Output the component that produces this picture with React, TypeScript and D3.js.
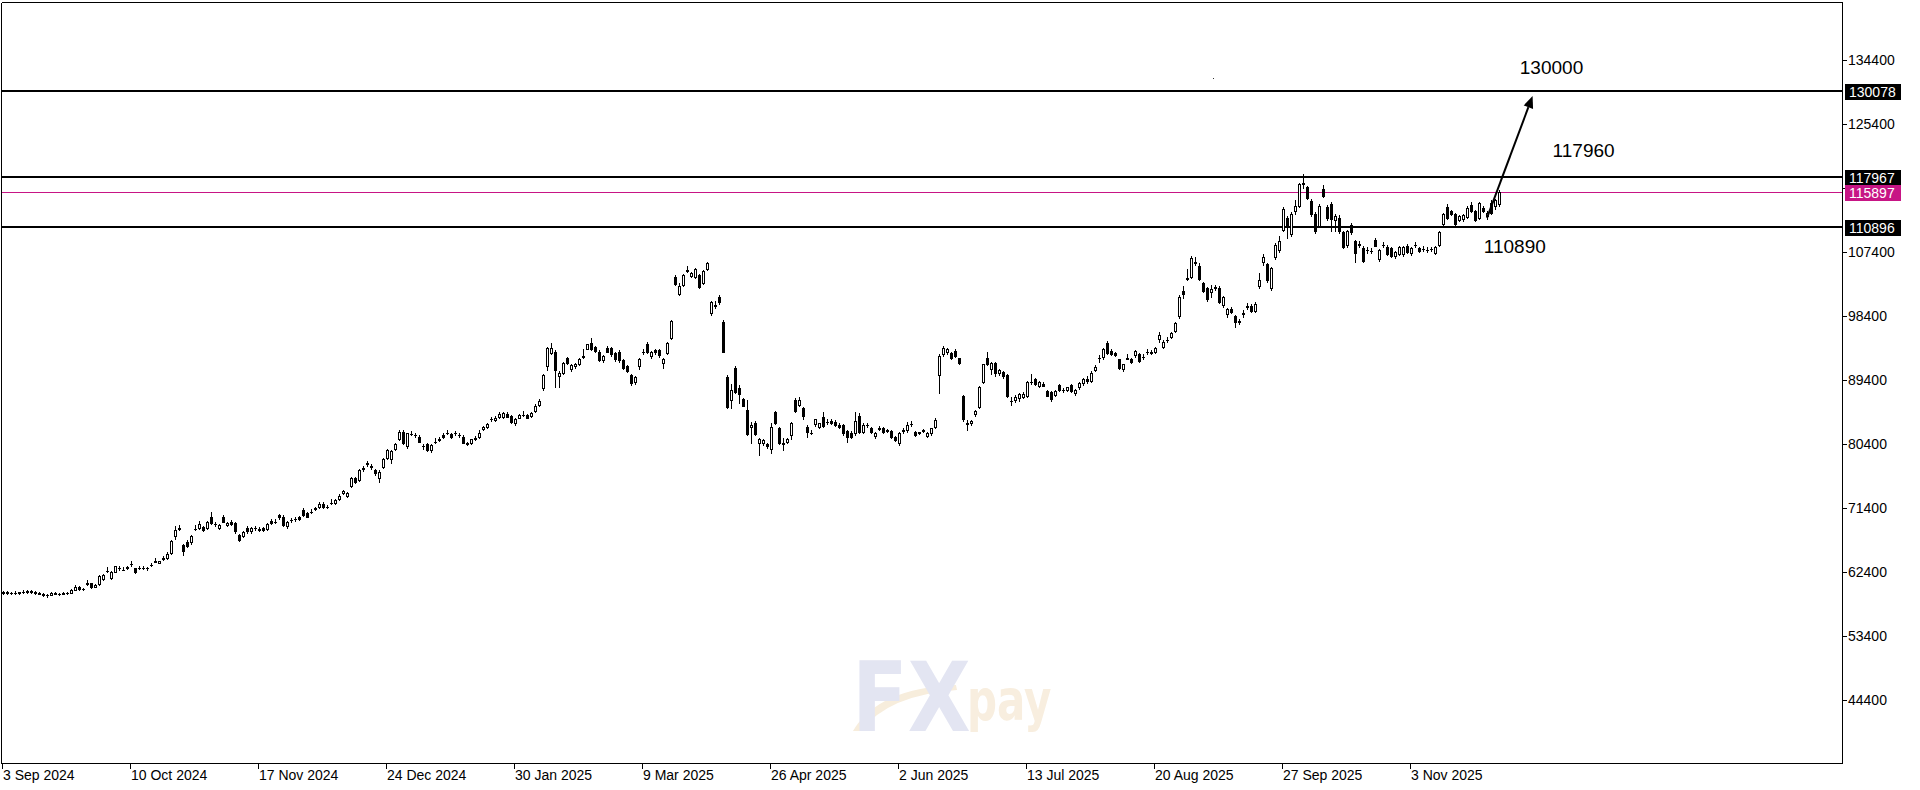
import React from 'react';
import * as d3 from 'd3';

type C = [number, number, number, number]; // open, high, low, close

// Sep 2024 – Dec 2024
const candlesA: C[] = [
  [59450, 59700, 59300, 59550], [59550, 59700, 59350, 59450], [59450, 59650, 59300, 59500], [59500, 59750, 59350, 59400],
  [59400, 59650, 59300, 59600], [59600, 59800, 59400, 59550], [59550, 59900, 59500, 59700], [59700, 59900, 59450, 59650],
  [59650, 59750, 59300, 59400], [59400, 59550, 59250, 59300], [59300, 59400, 59000, 59100], [59100, 59250, 58950, 59200],
  [59200, 59600, 59150, 59500], [59500, 59650, 59300, 59350], [59350, 59500, 59200, 59300], [59450, 59550, 59250, 59300],
  [59400, 59550, 59300, 59500], [59500, 59950, 59450, 59900], [59900, 60600, 59850, 60300], [60300, 60400, 59900, 60000],
  [60000, 60200, 59800, 60050], [60700, 61300, 60600, 60800], [60800, 60900, 60200, 60350], [60350, 60700, 60250, 60550],
  [60700, 61950, 60600, 61800], [61400, 62150, 61300, 61950], [62500, 63100, 62400, 62600], [61500, 62550, 61400, 62450],
  [62450, 63300, 62350, 63200], [62950, 63300, 62750, 62900], [62700, 63050, 62650, 62750], [62900, 63250, 62850, 63150],
  [63550, 63900, 63300, 63500], [62900, 63000, 62200, 62450], [62950, 63250, 62800, 63000], [63000, 63250, 62850, 62950],
  [62950, 63150, 62650, 62900], [63400, 63700, 63250, 63450], [63850, 64300, 63800, 63900], [63700, 64000, 63650, 63900],
  [64400, 64600, 64100, 64250], [64300, 65200, 64200, 65000], [65100, 66900, 65000, 66750], [67400, 68800, 67000, 68300],
  [68550, 69000, 68300, 68500], [66200, 66400, 64800, 65300], [66650, 66900, 65900, 66000], [66550, 67600, 66400, 67450],
  [68400, 69000, 68300, 68450], [68600, 69600, 68500, 69200], [68700, 68900, 68150, 68250], [68600, 69600, 68500, 69450],
  [70200, 70800, 69200, 69350], [69200, 69500, 68900, 69150], [68600, 69100, 68400, 69000], [70150, 70450, 69400, 69500],
  [69000, 69400, 68800, 69300], [69450, 69700, 69000, 69150], [69250, 69450, 67900, 68100], [67600, 67800, 66700, 66900],
  [67400, 68200, 67300, 68050], [68650, 68900, 67950, 68100], [68100, 68700, 67900, 68550], [68600, 68850, 68350, 68550],
  [68500, 68700, 68200, 68300], [68550, 68700, 68200, 68300], [68400, 69300, 68300, 69150], [69600, 69900, 69100, 69250],
  [69500, 69800, 69300, 69450], [70400, 70600, 69900, 70100], [70200, 70400, 68800, 69000], [68800, 69600, 68600, 69450],
  [69700, 70000, 69500, 69750], [69800, 70100, 69600, 69850], [70100, 70300, 69700, 69800], [71100, 71400, 70300, 70450],
  [70650, 70900, 70100, 70200], [70900, 71200, 70700, 70850], [71350, 71600, 71100, 71300], [71600, 72200, 71450, 71950],
  [71950, 72200, 71400, 71600], [71600, 71850, 71350, 71550], [72050, 72700, 72000, 72150], [72050, 72700, 71900, 72500],
  [72600, 73300, 72500, 73100], [73450, 74000, 73350, 73850], [73100, 73700, 72900, 73550], [74500, 75800, 74300, 75550],
  [75550, 75800, 74950, 75100], [75350, 76900, 75200, 76700], [76900, 77300, 76600, 77000], [77700, 78000, 77300, 77650],
  [77250, 77600, 76900, 77200], [76750, 76950, 76100, 76300],
];

// Dec 2024 – Apr 2025
const candlesB: C[] = [
  [75600, 76700, 75000, 76500], [77100, 78400, 77000, 78250], [78500, 79700, 78300, 79550], [78250, 79600, 77700, 79450],
  [79700, 80600, 79500, 80350], [81050, 82300, 80900, 82150], [82150, 82400, 80400, 80500], [80050, 82000, 79800, 81900],
  [81800, 82200, 81600, 81850], [81700, 82000, 81400, 81650], [81450, 81600, 80650, 80750], [80100, 80400, 79700, 80150],
  [80400, 80500, 79400, 79550], [79550, 80400, 79300, 80250], [80700, 81200, 80500, 80750], [81050, 81400, 80800, 81000],
  [81650, 81900, 81300, 81350], [82000, 82400, 81800, 81950], [81850, 82000, 81200, 81350], [81900, 82200, 81700, 81900],
  [81650, 81950, 81450, 81700], [81450, 81600, 80500, 80600], [80600, 80700, 80200, 80400], [80500, 81100, 80400, 81050],
  [81200, 81500, 80900, 81150], [81450, 82400, 81300, 81900], [82450, 82950, 82300, 82850], [82750, 83300, 82600, 83150],
  [83850, 84200, 83600, 83900], [83800, 84300, 83700, 84100], [84150, 84850, 84050, 84600], [84250, 84950, 84100, 84750],
  [84550, 84850, 84200, 84250], [84350, 84500, 83300, 83550], [83300, 84000, 83100, 83900], [84100, 84650, 84000, 84500],
  [84450, 85000, 84400, 84500], [84500, 84650, 84000, 84100], [84350, 84950, 84200, 84800], [85100, 86000, 84900, 85800],
  [85850, 86700, 85700, 86500], [88250, 90300, 88000, 90100], [91300, 94100, 90800, 93850], [93250, 94550, 93100, 93850],
  [93400, 93600, 88450, 90800], [89950, 90700, 88450, 90400], [90450, 92000, 90200, 91750], [92450, 92700, 91600, 91750],
  [90900, 91650, 90700, 91500], [91300, 91800, 91100, 91650], [91650, 92500, 91500, 92300], [92650, 93700, 92550, 92750],
  [93800, 94500, 93700, 94400], [94550, 95250, 93650, 93750], [94000, 94200, 93350, 93500], [93400, 93550, 92100, 92200],
  [92200, 92900, 91950, 92750], [93950, 94200, 93300, 93400], [93950, 94100, 92800, 93050], [93250, 93400, 92100, 92300],
  [93400, 93600, 91900, 92200], [92200, 92300, 91000, 91150], [91350, 91500, 90500, 90700], [90100, 90300, 88700, 88950],
  [89150, 90000, 88900, 89850], [91350, 92500, 91000, 92300], [93300, 93800, 93100, 93400], [94400, 94700, 93200, 93400],
  [92750, 93500, 92500, 93350], [93600, 93800, 93100, 93300], [93600, 93750, 92700, 92900], [91750, 92500, 91100, 92400],
  [93150, 94700, 93000, 94550], [95250, 97900, 95100, 97750], [103850, 104100, 102700, 102900], [101500, 103100, 101300, 102600],
  [102750, 104300, 102600, 104150], [104700, 105450, 104600, 104800], [104050, 104600, 103900, 104400], [103950, 105100, 103800, 104950],
  [104150, 104300, 102300, 102450], [103100, 104900, 102900, 104700], [104950, 106050, 104800, 105800], [98850, 100500, 98600, 100300],
  [99800, 100500, 99500, 99900], [101100, 101400, 100100, 100300], [97600, 97800, 93300, 93400], [89850, 90100, 85500, 85650],
  [86600, 88850, 85400, 88000], [91150, 91300, 87600, 87750], [88250, 88700, 86200, 87450], [86700, 86800, 85700, 85800],
  [85250, 86600, 81700, 81800], [82750, 83550, 80600, 83050],
];

// Apr 2025 – Aug 2025
const candlesC: C[] = [
  [83400, 83700, 81700, 81800], [80600, 81200, 78850, 81050], [80500, 81150, 80300, 80950], [80400, 80550, 79900, 80050],
  [79650, 83300, 79100, 82750], [84950, 85100, 83200, 83300], [82600, 82800, 80400, 80600], [80600, 81200, 79550, 80400],
  [80700, 81300, 80500, 81150], [81650, 83500, 81100, 83300], [86600, 86800, 84900, 85100], [85900, 87000, 85700, 86600],
  [85400, 85600, 83900, 84350], [82750, 83050, 81450, 82150], [82000, 82300, 81800, 81950], [83200, 83950, 83000, 83850],
  [82850, 83400, 82600, 83300], [84150, 84950, 82800, 82950], [83550, 83900, 83200, 83500], [83700, 83900, 83200, 83300],
  [83550, 83800, 82950, 83050], [83050, 83300, 82600, 82750], [83050, 83200, 81700, 81900], [82200, 82400, 80700, 81350],
  [82000, 82200, 81200, 81350], [81900, 84950, 81700, 83700], [84350, 84700, 82000, 82150], [82150, 83300, 81900, 83050],
  [83050, 83350, 82850, 83100], [82600, 82800, 81950, 82150], [81550, 82150, 81300, 81950], [82550, 82900, 82300, 82600],
  [82600, 82800, 81950, 82150], [82300, 82550, 82050, 82250], [82250, 82400, 81300, 81450], [81350, 81500, 80800, 80950],
  [80600, 82100, 80300, 81950], [82250, 82600, 82000, 82300], [82300, 83500, 82100, 83050], [83150, 83600, 82950, 83200],
  [82100, 82250, 81550, 81700], [82050, 82150, 81750, 81900], [82250, 82550, 82050, 82300], [81550, 82050, 81400, 81900],
  [81900, 82700, 81700, 82600], [82850, 84100, 82700, 83800], [90100, 93000, 87600, 92750], [93000, 94250, 92800, 93850],
  [93400, 93900, 93100, 93700], [93150, 93350, 92300, 92450], [93500, 93700, 92700, 92800], [92450, 92500, 91700, 91750],
  [87150, 87300, 83700, 83850], [83300, 83800, 82350, 83250], [83300, 83800, 83100, 83650], [84600, 85200, 84400, 85050],
  [85550, 88600, 85400, 88450], [89150, 91700, 89000, 91600], [92450, 93300, 91550, 91650], [90900, 92000, 90200, 91850],
  [91850, 92000, 89900, 90450], [90350, 90900, 90100, 90800], [90550, 90700, 89700, 89950], [90100, 90250, 87000, 87150],
  [86500, 87050, 85900, 86450], [86650, 87250, 86300, 87050], [86800, 87550, 86500, 87450], [87050, 87700, 86900, 87450],
  [87200, 89300, 87000, 89150], [89150, 90200, 88900, 89100], [89500, 89700, 88700, 88800], [88600, 89300, 88400, 89150],
  [88900, 89050, 88500, 88600], [87900, 88050, 87100, 87200], [87750, 87900, 86500, 86700], [87300, 88000, 87100, 87900],
  [88700, 88900, 87800, 87950], [88000, 88300, 87700, 88000], [88000, 88450, 87800, 88350], [88700, 88900, 87700, 87900],
  [87550, 88100, 87300, 87950], [88400, 89100, 88200, 89000], [89000, 89700, 88700, 89500], [89500, 89900, 89000, 89300],
  [89300, 90600, 89100, 90400], [90800, 91450, 90600, 91250], [92450, 92900, 91950, 92500], [92600, 93900, 92400, 93700],
  [94550, 94900, 93100, 93250], [93450, 93700, 92900, 93050], [93250, 93400, 92800, 92900], [92300, 92400, 90900, 91050],
  [90900, 91700, 90700, 91600], [92400, 93100, 92300, 92450],
];

// Aug 2025 – Nov 2025
const candlesD: C[] = [
  [92300, 92500, 91800, 91950], [92900, 93600, 92700, 93500], [93000, 93200, 92000, 92100], [92650, 93000, 92400, 92700],
  [93300, 93800, 93000, 93300], [93400, 93600, 93000, 93150], [93400, 94000, 93200, 93850], [95100, 96150, 94800, 95700],
  [94100, 95050, 93900, 94750], [95000, 95400, 94700, 95050], [95500, 96200, 95300, 96050], [96350, 97500, 96100, 97350],
  [98400, 101300, 98100, 101050], [101900, 102600, 100900, 101500], [103800, 105000, 103400, 103550], [103850, 106800, 103700, 106500],
  [105950, 106650, 105600, 105900], [105450, 105800, 103400, 103550], [103000, 103200, 101800, 101950], [102300, 102450, 100500, 100800],
  [101800, 102800, 101100, 102150], [102400, 102800, 102100, 102450], [102400, 102550, 100200, 100300], [99950, 101200, 99700, 101050],
  [98700, 99500, 98300, 99350], [99450, 99650, 98800, 98990], [98400, 98600, 96900, 97600], [97600, 98000, 97300, 97650],
  [98800, 99300, 98300, 98750], [99700, 100200, 99400, 99750], [99850, 100100, 98900, 99050], [99150, 100300, 98900, 100100],
  [102650, 104400, 102400, 103450], [105950, 107100, 105550, 106750], [105650, 105800, 103200, 103400], [102300, 105300, 102100, 105100],
  [106650, 108700, 106400, 108450], [107700, 109650, 107400, 109000], [110500, 113700, 110300, 113500], [112250, 112500, 109300, 110850],
  [109950, 113000, 109700, 112700], [113200, 114700, 112700, 113900], [113850, 117100, 113700, 116950], [116900, 118400, 116350, 117050],
  [116500, 116700, 114800, 114950], [114600, 114800, 112500, 112800], [112800, 113000, 110100, 110300], [111100, 114100, 110900, 113900],
  [116250, 116850, 115100, 115300], [113750, 114000, 111900, 112150], [114100, 114400, 110300, 112000], [111900, 112700, 110300, 112500],
  [112250, 112600, 110100, 110300], [110150, 110400, 107900, 108150], [108350, 110500, 108100, 110300], [111200, 111500, 109900, 110150],
  [108900, 109100, 106050, 107200], [108450, 108900, 108100, 108500], [107950, 108200, 106000, 106150], [107650, 108100, 107300, 107700],
  [107550, 108000, 107200, 107600], [109100, 109400, 108200, 108300], [106400, 107800, 106200, 107650], [108400, 108800, 108100, 108450],
  [108150, 108350, 107000, 107100], [107950, 108100, 106700, 106850], [106850, 107500, 106600, 107350], [107150, 108300, 107000, 108150],
  [107100, 108250, 106900, 108150], [108250, 108500, 107300, 107450], [107200, 108100, 107000, 107950], [108400, 108850, 108150, 108450],
  [107950, 108100, 107400, 107550], [107800, 108200, 107500, 107850], [107650, 108050, 107350, 107700], [107800, 108150, 107500, 107800],
  [107250, 108300, 107100, 108150], [108400, 110400, 108200, 110150], [111300, 112900, 111000, 112800], [113750, 114100, 112100, 112250],
  [113100, 113300, 112600, 112700], [112700, 112900, 111200, 111400], [111950, 112600, 111700, 112500], [112000, 112750, 111800, 112600],
  [112350, 113800, 112200, 113650], [114050, 114500, 113050, 113200], [113100, 113300, 111700, 111900], [112250, 114400, 112100, 114300],
  [113650, 113900, 113050, 113200], [112500, 113100, 112000, 112950], [114350, 114700, 112800, 112950], [113900, 114800, 113500, 114700],
  [114150, 116100, 113900, 115897],
];

const dateTickBars = [0, 32, 64, 96, 128, 160, 192, 224, 256, 288, 320, 352];
const dateTickLabels = [
  '3 Sep 2024', '10 Oct 2024', '17 Nov 2024', '24 Dec 2024', '30 Jan 2025', '9 Mar 2025',
  '26 Apr 2025', '2 Jun 2025', '13 Jul 2025', '20 Aug 2025', '27 Sep 2025', '3 Nov 2025',
];
const priceTicks = [134400, 125400, 116400, 107400, 98400, 89400, 80400, 71400, 62400, 53400, 44400];
const hiddenPriceLabels = [116400];
const levelLines = [130078, 117967, 110896];
const currentPrice = 115897;
const noteTexts = ['130000', '117960', '110890'];
const noteBars = [379.2, 387.4, 370.2];
const notePrices = [132430, 120760, 107260];
const arrowFrom = { bar: 371, price: 112200 };
const arrowTo = { bar: 382.4, price: 129350 };
const strayDot = { bar: 302.4, price: 131870 };

const W = 1920;
const H = 790;
const PLOT_L = 1;
const PLOT_T = 2;
const PLOT_R = 1842;
const PLOT_B = 763;
const MAGENTA = '#C71585';
const FONT = "'Liberation Sans', Arial, sans-serif";

export default function App() {
  const candles = [...candlesA, ...candlesB, ...candlesC, ...candlesD];
  const x = d3.scaleLinear().domain([0, 460]).range([3, 1843]);
  const y = d3.scaleLinear().domain([44400, 134400]).range([700, 60]);

  const ax = x(arrowFrom.bar), ay = y(arrowFrom.price);
  const bx = x(arrowTo.bar), by = y(arrowTo.price);
  const ang = Math.atan2(by - ay, bx - ax);
  const headLen = 12, headW = 5;
  const baseX = bx - headLen * Math.cos(ang), baseY = by - headLen * Math.sin(ang);
  const px = -Math.sin(ang), py = Math.cos(ang);
  const head = `${bx},${by} ${baseX + px * headW},${baseY + py * headW} ${baseX - px * headW},${baseY - py * headW}`;

  return (
    <svg width={W} height={H} style={{ position: 'absolute', left: 0, top: 0, display: 'block', background: '#fff' }}>
      <rect x={0} y={0} width={W} height={H} fill="#fff" />

      {/* watermark */}
      <g fontFamily="'DejaVu Sans', sans-serif" fontWeight="bold">
        <path d="M853,731 Q878,688 956,685 L957,690 Q888,695 861,731 Z" fill="#F7EDDC" />
        <text transform="translate(852,731) scale(1.36,1.6)" fontSize={60} fill="#E3E5F2">FX</text>
        <text transform="translate(967,720) scale(1.05,1.42)" fontSize={40} fill="#F8EEDF">pay</text>
      </g>

      {/* frame */}
      <g shapeRendering="crispEdges" stroke="#000" strokeWidth={1}>
        <line x1={PLOT_L + 0.5} x2={PLOT_R + 0.5} y1={PLOT_T + 0.5} y2={PLOT_T + 0.5} />
        <line x1={PLOT_L + 0.5} x2={PLOT_L + 0.5} y1={PLOT_T + 0.5} y2={PLOT_B + 0.5} />
        <line x1={PLOT_R + 0.5} x2={PLOT_R + 0.5} y1={PLOT_T} y2={PLOT_B + 1} />
        <line x1={PLOT_L} x2={PLOT_R + 1} y1={PLOT_B + 0.5} y2={PLOT_B + 0.5} />
      </g>

      {/* level lines */}
      <g shapeRendering="crispEdges">
        {levelLines.map((v) => (
          <line key={v} x1={PLOT_L + 1} x2={PLOT_R} y1={Math.round(y(v))} y2={Math.round(y(v))} stroke="#000" strokeWidth={2} />
        ))}
        <line x1={PLOT_L + 1} x2={PLOT_R} y1={Math.round(y(currentPrice)) + 0.5} y2={Math.round(y(currentPrice)) + 0.5}
          stroke={MAGENTA} strokeWidth={1} />
      </g>

      {/* candles */}
      <g shapeRendering="crispEdges">
        {candles.map(([o, h, l, c], i) => {
          const cx = Math.round(x(i));
          const yo = Math.round(y(o)), yc = Math.round(y(c));
          const yh = Math.round(y(h)), yl = Math.round(y(l));
          const top = Math.min(yo, yc), bot = Math.max(yo, yc);
          const bull = c >= o;
          return (
            <g key={i}>
              <line x1={cx + 0.5} x2={cx + 0.5} y1={yh} y2={yl + 1} stroke="#000" strokeWidth={1} />
              {bull ? (
                bot - top >= 1 ? (
                  <rect x={cx - 0.5} y={top + 0.5} width={2} height={bot - top} fill="#fff" stroke="#000" strokeWidth={1} />
                ) : (
                  <rect x={cx - 1} y={top} width={3} height={1} fill="#000" />
                )
              ) : (
                <rect x={cx - 1} y={top} width={3} height={bot - top + 1} fill="#000" />
              )}
            </g>
          );
        })}
      </g>

      {/* stray dot */}
      <rect x={Math.round(x(strayDot.bar))} y={Math.round(y(strayDot.price))} width={1} height={1} fill="#333" shapeRendering="crispEdges" />

      {/* arrow */}
      <line x1={ax} y1={ay} x2={baseX} y2={baseY} stroke="#000" strokeWidth={2} />
      <polygon points={head} fill="#000" />

      {/* annotation texts */}
      {noteTexts.map((t, i) => (
        <text key={t} x={x(noteBars[i])} y={y(notePrices[i])} fontFamily={FONT} fontSize={19} fill="#000">{t}</text>
      ))}

      {/* price axis */}
      <g fontFamily={FONT} fontSize={14} fill="#000">
        {priceTicks.map((v) => {
          const ty = Math.round(y(v));
          return (
            <g key={v}>
              <line x1={PLOT_R + 1} x2={PLOT_R + 5} y1={ty + 0.5} y2={ty + 0.5} stroke="#000" shapeRendering="crispEdges" />
              {!hiddenPriceLabels.includes(v) && <text x={PLOT_R + 6} y={ty + 5}>{v}</text>}
            </g>
          );
        })}
        {[...levelLines.map((v) => ({ v, fill: '#000' })), { v: currentPrice, fill: MAGENTA }].map(({ v, fill }) => {
          const ly = Math.round(y(v));
          return (
            <g key={'b' + v}>
              <rect x={PLOT_R + 3} y={ly - 7} width={56} height={16} fill={fill} shapeRendering="crispEdges" />
              <text x={PLOT_R + 7} y={ly + 6} fill="#fff">{v}</text>
            </g>
          );
        })}
      </g>

      {/* date axis */}
      <g fontFamily={FONT} fontSize={14} fill="#000">
        {dateTickBars.map((b, i) => {
          const tx = Math.round(x(b)) - 1;
          return (
            <g key={b}>
              <line x1={tx + 0.5} x2={tx + 0.5} y1={PLOT_B + 1} y2={PLOT_B + 6} stroke="#000" shapeRendering="crispEdges" />
              <text x={tx + 1} y={780}>{dateTickLabels[i]}</text>
            </g>
          );
        })}
      </g>
    </svg>
  );
}
